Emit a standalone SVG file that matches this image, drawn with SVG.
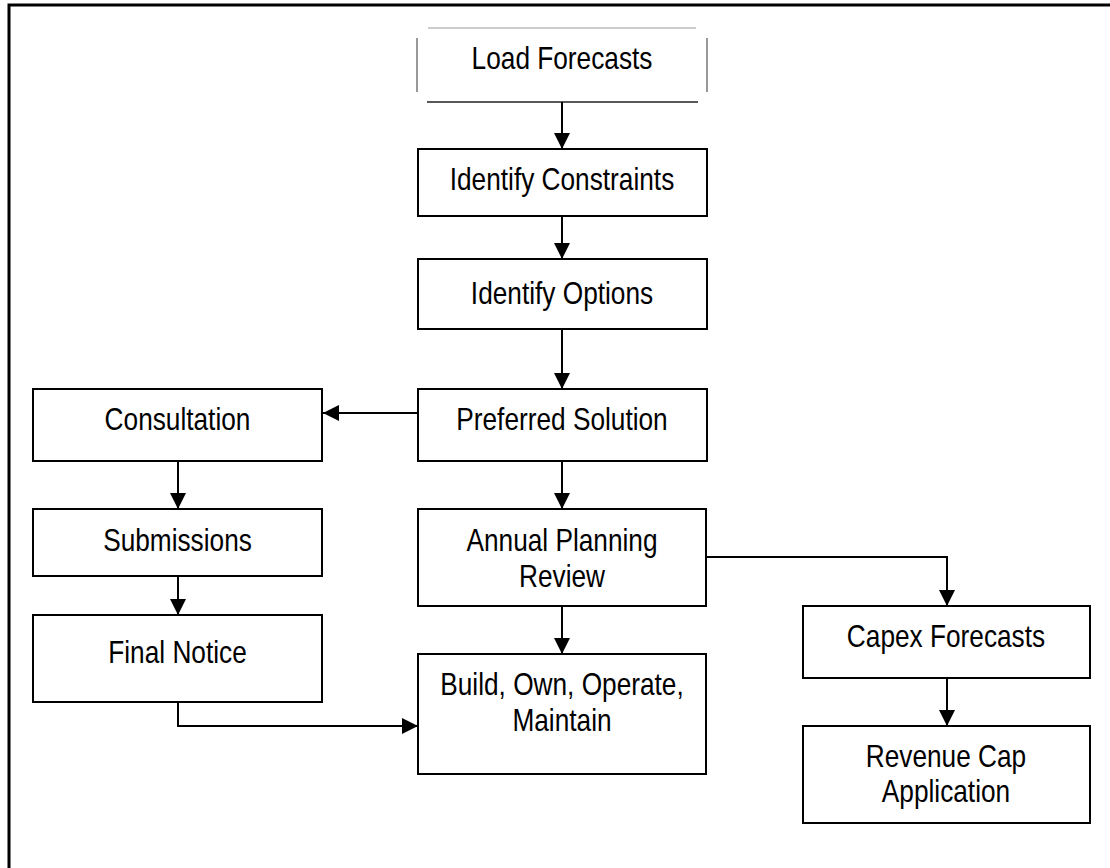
<svg xmlns="http://www.w3.org/2000/svg" width="1110" height="868" viewBox="0 0 1110 868">
<defs>
<style>
.box{fill:#fff;stroke:#000;stroke-width:2}
.lbl{font-family:"Liberation Sans",Arial,sans-serif;font-size:32px;fill:#000;text-anchor:middle}
.con{fill:none;stroke:#000;stroke-width:2}
</style>
<marker id="ah" markerUnits="userSpaceOnUse" markerWidth="16" markerHeight="16" refX="16" refY="8" orient="auto">
<path d="M0,0 L16,8 L0,16 z" fill="#000"/>
</marker>
</defs>
<rect x="0" y="0" width="1110" height="868" fill="#fff"/>
<path d="M9,868 V5 H1110" fill="none" stroke="#000" stroke-width="3"/>

<g id="load-forecasts">
<line x1="428" y1="28" x2="696" y2="28" stroke="#999" stroke-width="1"/>
<line x1="417" y1="38" x2="417" y2="92" stroke="#333" stroke-width="1"/>
<line x1="707" y1="38" x2="707" y2="92" stroke="#333" stroke-width="1"/>
<line x1="427" y1="102" x2="698" y2="102" stroke="#222" stroke-width="1.5"/>
<text class="lbl" transform="translate(562,69) scale(0.82,1)">Load Forecasts</text>
</g>
<g id="identify-constraints">
<rect class="box" x="418" y="149" width="289" height="67"/>
<text class="lbl" transform="translate(562,190) scale(0.82,1)">Identify Constraints</text>
</g>
<g id="identify-options">
<rect class="box" x="418" y="259" width="289" height="70"/>
<text class="lbl" transform="translate(562,304) scale(0.82,1)">Identify Options</text>
</g>
<g id="preferred-solution">
<rect class="box" x="418" y="389" width="289" height="72"/>
<text class="lbl" transform="translate(562,430) scale(0.82,1)">Preferred Solution</text>
</g>
<g id="consultation">
<rect class="box" x="33" y="389" width="289" height="72"/>
<text class="lbl" transform="translate(177.5,430) scale(0.82,1)">Consultation</text>
</g>
<g id="submissions">
<rect class="box" x="33" y="509" width="289" height="67"/>
<text class="lbl" transform="translate(177.5,551) scale(0.82,1)">Submissions</text>
</g>
<g id="final-notice">
<rect class="box" x="33" y="615" width="289" height="87"/>
<text class="lbl" transform="translate(177.5,663) scale(0.82,1)">Final Notice</text>
</g>
<g id="annual-planning-review">
<rect class="box" x="418" y="509" width="288" height="97"/>
<text class="lbl" transform="translate(562,551) scale(0.82,1)">Annual Planning</text>
<text class="lbl" transform="translate(562,587) scale(0.82,1)">Review</text>
</g>
<g id="build-own-operate-maintain">
<rect class="box" x="418" y="654" width="288" height="120"/>
<text class="lbl" transform="translate(562,695) scale(0.82,1)">Build, Own, Operate,</text>
<text class="lbl" transform="translate(562,731) scale(0.82,1)">Maintain</text>
</g>
<g id="capex-forecasts">
<rect class="box" x="803" y="606" width="287" height="72"/>
<text class="lbl" transform="translate(946,647) scale(0.82,1)">Capex Forecasts</text>
</g>
<g id="revenue-cap-application">
<rect class="box" x="803" y="726" width="287" height="97"/>
<text class="lbl" transform="translate(946,767) scale(0.82,1)">Revenue Cap</text>
<text class="lbl" transform="translate(946,802) scale(0.82,1)">Application</text>
</g>

<g id="connectors">
<path class="con" d="M562,102 V149" marker-end="url(#ah)"/>
<path class="con" d="M562,216 V259" marker-end="url(#ah)"/>
<path class="con" d="M562,329 V389" marker-end="url(#ah)"/>
<path class="con" d="M418,413 H323" marker-end="url(#ah)"/>
<path class="con" d="M562,461 V509" marker-end="url(#ah)"/>
<path class="con" d="M178,461 V509" marker-end="url(#ah)"/>
<path class="con" d="M178,576 V615" marker-end="url(#ah)"/>
<path class="con" d="M562,606 V654" marker-end="url(#ah)"/>
<path class="con" d="M178,702 V726 H418" marker-end="url(#ah)"/>
<path class="con" d="M706,557 H947 V606" marker-end="url(#ah)"/>
<path class="con" d="M947,678 V726" marker-end="url(#ah)"/>
</g>
</svg>
